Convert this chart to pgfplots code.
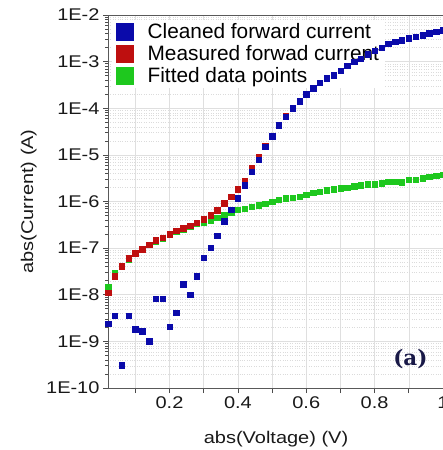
\documentclass[border=0pt]{standalone}
\usepackage{fontspec}
\setmainfont{Liberation Sans}
\newfontfamily\widesans{Liberation Sans}[FakeStretch=1.18]
\newfontfamily\tagfont{DejaVu Serif}
\usepackage{pgfplots}
\pgfplotsset{compat=1.18}

\definecolor{cblue}{RGB}{10,10,170}
\definecolor{cred}{RGB}{190,15,15}
\definecolor{cgreen}{RGB}{30,200,30}

% legend sits below the data marks, above the grid
\pgfplotsset{
  layers/legend below data/.define layer set={
    axis background,axis grid,axis ticks,axis lines,axis tick labels,
    axis descriptions,pre main,main,axis foreground
  }{/pgfplots/layers/standard},
}

\begin{document}
\begin{tikzpicture}
\begin{axis}[
  set layers=legend below data,
  at={(108bp,62bp)}, anchor=south west,
  scale only axis, width=336bp, height=373bp,
  xmin=0.02, xmax=1.003,
  ymode=log, ymin=1e-10, ymax=1e-2,
  xtick={0.1,0.2,0.3,0.4,0.5,0.6,0.7,0.8,0.9,1.0},
  xticklabels={,0.2,,0.4,,0.6,,0.8,,1},
  ytick={1e-10,1e-9,1e-8,1e-7,1e-6,1e-5,1e-4,1e-3,1e-2},
  yticklabels={1E-10,1E-9,1E-8,1E-7,1E-6,1E-5,1E-4,1E-3,1E-2},
  minor ytick={2e-10,3e-10,4e-10,5e-10,6e-10,7e-10,8e-10,9e-10,
               2e-9,3e-9,4e-9,5e-9,6e-9,7e-9,8e-9,9e-9,
               2e-8,3e-8,4e-8,5e-8,6e-8,7e-8,8e-8,9e-8,
               2e-7,3e-7,4e-7,5e-7,6e-7,7e-7,8e-7,9e-7,
               2e-6,3e-6,4e-6,5e-6,6e-6,7e-6,8e-6,9e-6,
               2e-5,3e-5,4e-5,5e-5,6e-5,7e-5,8e-5,9e-5,
               2e-4,3e-4,4e-4,5e-4,6e-4,7e-4,8e-4,9e-4,
               2e-3,3e-3,4e-3,5e-3,6e-3,7e-3,8e-3,9e-3},
  xtick pos=bottom, ytick pos=left,
  tick align=outside,
  major tick length=5bp, minor tick length=3bp,
  every tick/.style={black!70, line width=0.6bp},
  grid=both,
  major grid style={gray!25, line width=0.5bp},
  minor grid style={gray!28, dotted, line width=0.4bp},
  axis line style={black!65, line width=0.8bp},
  ticklabel style={font=\widesans\fontsize{17}{20}\selectfont, text=black!90},
  xlabel={abs(Voltage) (V)},
  ylabel={abs(Current) (A)},
  label style={font=\widesans\fontsize{17}{20}\selectfont, text=black!90},
  xlabel style={at={(axis description cs:0.5,0)}, anchor=base, yshift=-55bp},
  ylabel style={at={(axis description cs:-0.2232,0.5)}, anchor=base},
  reverse legend,
  legend style={at={(axis description cs:0.012,0.988)}, anchor=north west,
    draw=none, fill=white, inner xsep=4bp, inner ysep=2bp,
    font=\fontsize{20.9}{23.5}\selectfont, cells={anchor=west}, row sep=1.5bp},
  legend image code/.code={\fill[#1] (4bp,-8.5bp) rectangle (21bp,8.5bp);
                           \path (33bp,0bp);},
  every axis plot/.append style={only marks, mark=square*, mark size=2.7bp},
]

% fitted diode model
\addplot[color=cgreen] coordinates {
(0.02,1.48e-8) (0.04,2.95e-8) (0.06,4.04e-8) (0.08,5.67e-8) (0.10,7.58e-8)
(0.12,9.38e-8) (0.14,1.19e-7) (0.16,1.40e-7) (0.18,1.58e-7) (0.20,1.98e-7)
(0.22,2.30e-7) (0.24,2.52e-7) (0.26,2.92e-7) (0.28,3.30e-7) (0.30,3.63e-7)
(0.32,3.89e-7) (0.34,4.47e-7) (0.36,5.13e-7) (0.38,5.89e-7) (0.40,6.61e-7)
(0.42,7.08e-7) (0.44,7.76e-7) (0.46,8.32e-7) (0.48,8.91e-7) (0.50,9.77e-7)
(0.52,1.10e-6) (0.54,1.17e-6) (0.56,1.20e-6) (0.58,1.26e-6) (0.60,1.41e-6)
(0.62,1.55e-6) (0.64,1.62e-6) (0.66,1.74e-6) (0.68,1.82e-6) (0.70,1.91e-6)
(0.72,2.00e-6) (0.74,2.14e-6) (0.76,2.24e-6) (0.78,2.34e-6) (0.80,2.34e-6)
(0.82,2.45e-6) (0.84,2.63e-6) (0.86,2.63e-6) (0.88,2.57e-6) (0.90,2.95e-6)
(0.92,2.95e-6) (0.94,3.16e-6) (0.96,3.39e-6) (0.98,3.55e-6) (1.00,3.72e-6)
};
\addlegendentry{Fitted data points}

% raw forward sweep
\addplot[color=cred] coordinates {
(0.02,1.12e-8) (0.04,2.51e-8) (0.06,4.07e-8) (0.08,6.03e-8) (0.10,7.76e-8)
(0.12,9.55e-8) (0.14,1.20e-7) (0.16,1.48e-7) (0.18,1.66e-7) (0.20,2.00e-7)
(0.22,2.34e-7) (0.24,2.69e-7) (0.26,3.02e-7) (0.28,3.55e-7) (0.30,4.17e-7)
(0.32,5.13e-7) (0.34,6.46e-7) (0.36,9.12e-7) (0.38,1.26e-6) (0.40,1.82e-6)
(0.42,2.75e-6) (0.44,5.13e-6) (0.46,8.91e-6) (0.48,1.59e-5) (0.50,2.61e-5)
(0.52,4.48e-5) (0.54,6.72e-5) (0.56,1.01e-4) (0.58,1.42e-4) (0.60,2.01e-4)
(0.62,2.70e-4) (0.64,3.57e-4) (0.66,4.39e-4) (0.68,5.15e-4) (0.70,6.48e-4)
(0.72,8.15e-4) (0.74,1.00e-3) (0.76,1.17e-3) (0.78,1.45e-3) (0.80,1.70e-3)
(0.82,2.00e-3) (0.84,2.40e-3) (0.86,2.69e-3) (0.88,2.88e-3) (0.90,3.16e-3)
(0.92,3.39e-3) (0.94,3.72e-3) (0.96,4.07e-3) (0.98,4.37e-3) (1.00,4.68e-3)
};
\addlegendentry{Measured forwad current}

% measured minus fitted
\addplot[color=cblue] coordinates {
(0.02,2.40e-9) (0.04,3.55e-9) (0.06,3.09e-10) (0.08,3.55e-9) (0.10,1.82e-9)
(0.12,1.66e-9) (0.14,1.00e-9) (0.16,8.13e-9) (0.18,8.13e-9) (0.20,2.04e-9)
(0.22,4.17e-9) (0.24,1.70e-8) (0.26,1.00e-8) (0.28,2.51e-8) (0.30,6.31e-8)
(0.32,1.02e-7) (0.34,1.82e-7) (0.36,3.80e-7) (0.38,6.61e-7) (0.40,1.17e-6)
(0.42,2.24e-6) (0.44,4.37e-6) (0.46,7.94e-6) (0.48,1.48e-5) (0.50,2.51e-5)
(0.52,4.37e-5) (0.54,6.61e-5) (0.56,1.00e-4) (0.58,1.41e-4) (0.60,2.00e-4)
(0.62,2.69e-4) (0.64,3.55e-4) (0.66,4.37e-4) (0.68,5.13e-4) (0.70,6.46e-4)
(0.72,8.13e-4) (0.74,1.00e-3) (0.76,1.17e-3) (0.78,1.45e-3) (0.80,1.70e-3)
(0.82,2.00e-3) (0.84,2.40e-3) (0.86,2.69e-3) (0.88,2.88e-3) (0.90,3.16e-3)
(0.92,3.39e-3) (0.94,3.72e-3) (0.96,4.07e-3) (0.98,4.37e-3) (1.00,4.68e-3)
};
\addlegendentry{Cleaned forward current}

\node[font=\tagfont\bfseries\fontsize{21.5}{24}\selectfont, text=black!80!blue!90]
  at (rel axis cs:0.9,0.079) {(a)};
\end{axis}
% page frame: the plot runs on past the right edge
\pgfresetboundingbox
\path[use as bounding box] (0,0) rectangle (443bp,450bp);
\end{tikzpicture}
\end{document}
